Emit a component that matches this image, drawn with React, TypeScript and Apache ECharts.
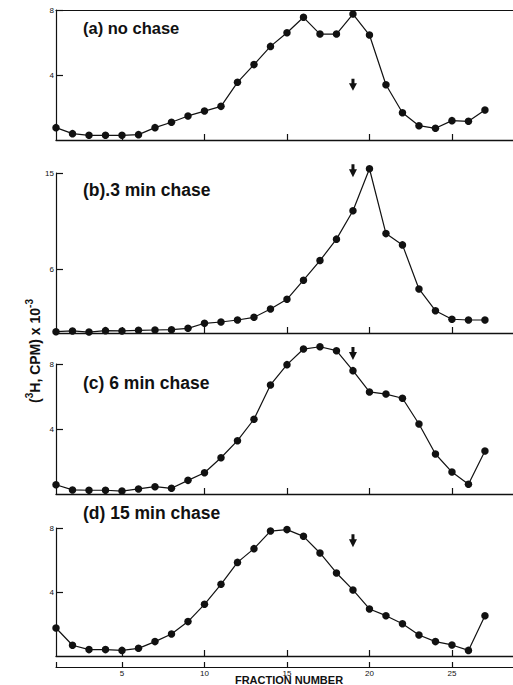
import React, { useEffect, useRef } from "react";
import * as echarts from "echarts";

const fractions = [1, 2, 3, 4, 5, 6, 7, 8, 9, 10, 11, 12, 13, 14, 15, 16, 17, 18, 19, 20, 21, 22, 23, 24, 25, 26, 27];

const noChase = [0.76, 0.39, 0.29, 0.29, 0.29, 0.33, 0.76, 1.09, 1.48, 1.78, 2.07, 3.55, 4.64, 5.76, 6.6, 7.55, 6.52, 6.52, 7.75, 6.46, 3.4, 1.68, 0.88, 0.72, 1.19, 1.15, 1.85];
const chase3 = [0.12, 0.19, 0.09, 0.22, 0.19, 0.25, 0.28, 0.31, 0.44, 0.91, 1.03, 1.22, 1.47, 2.25, 3.16, 4.95, 6.79, 8.8, 11.46, 15.4, 9.32, 8.26, 4.13, 2.09, 1.29, 1.22, 1.22];
const chase6 = [0.57, 0.25, 0.23, 0.23, 0.18, 0.31, 0.45, 0.35, 0.84, 1.31, 2.23, 3.28, 4.6, 6.71, 7.96, 8.92, 9.06, 8.82, 7.59, 6.28, 6.15, 5.89, 4.31, 2.46, 1.35, 0.6, 2.65];
const chase15 = [1.75, 0.67, 0.4, 0.4, 0.35, 0.48, 0.9, 1.38, 2.15, 3.23, 4.48, 5.85, 6.71, 7.81, 7.9, 7.48, 6.44, 5.19, 4.13, 2.94, 2.52, 2.02, 1.31, 0.9, 0.69, 0.35, 2.52];

const panelLabels = ["(a) no chase", "(b).3 min chase", "(c) 6 min chase", "(d) 15 min chase"];
const yMax = [8, 15, 8, 8];
const yTickValues = [[4, 8], [6, 15], [4, 8], [4, 8]];
const xTickValues = [5, 10, 15, 20, 25];
const bottomTickValues = [1, 5, 10, 15, 20, 25];
const arrowFraction = 19.0;
const arrowLevels = [3.4, 15.2, 8.65, 7.2];
const xMin = 1;
const xMax = 28.7;

const INK = "#111";
const FONT = "Liberation Sans, Arial, sans-serif";

export default function App() {
  const ref = useRef<HTMLDivElement>(null);

  useEffect(() => {
    if (!ref.current) return;
    const chart = echarts.init(ref.current, undefined, { renderer: "svg" });

    const gridTops = [10, 173, 364, 528];
    const gridHeights = [130, 160, 130, 128];
    const labelY = [28, 190, 383, 513];
    const labelSize = [16.5, 17.5, 17.5, 17.5];
    const seriesData = [noChase, chase3, chase6, chase15];

    const grids = gridTops.map((t, i) => ({ left: 56, width: 457, top: t, height: gridHeights[i] }));

    const xAxes: any[] = gridTops.map((_, i) => ({
      type: "value",
      gridIndex: i,
      min: xMin,
      max: xMax,
      axisLine: { show: true, lineStyle: { color: INK, width: 1.3 } },
      axisTick: { show: true, inside: true, length: 6, customValues: xTickValues, lineStyle: { color: INK, width: 1.2 } },
      axisLabel: { show: false },
      splitLine: { show: false },
    }));
    // top border of panel (a)
    xAxes.push({
      type: "value",
      gridIndex: 0,
      position: "top",
      min: xMin,
      max: xMax,
      axisLine: { show: true, lineStyle: { color: INK, width: 1.2 } },
      axisTick: { show: false },
      axisLabel: { show: false },
      splitLine: { show: false },
    });
    // lower scale axis below panel (d)
    xAxes.push({
      type: "value",
      gridIndex: 3,
      position: "bottom",
      offset: 11,
      min: xMin,
      max: xMax,
      axisLine: { show: true, lineStyle: { color: INK, width: 1.2 } },
      axisTick: { show: true, inside: true, length: 5, customValues: bottomTickValues, lineStyle: { color: INK, width: 1.2 } },
      axisLabel: { show: true, customValues: xTickValues, fontSize: 8, margin: 2, color: INK, fontFamily: FONT },
      splitLine: { show: false },
    });

    const yAxes = gridTops.map((_, i) => ({
      type: "value",
      gridIndex: i,
      min: 0,
      max: yMax[i],
      axisLine: { show: true, lineStyle: { color: INK, width: 1.2 } },
      axisTick: { show: true, inside: true, length: 7, customValues: yTickValues[i], lineStyle: { color: INK, width: 1.2 } },
      axisLabel: { show: true, customValues: yTickValues[i], fontSize: 8, margin: 2, color: INK, fontFamily: FONT },
      splitLine: { show: false },
    }));

    const series: any[] = [];
    seriesData.forEach((vals, i) => {
      series.push({
        type: "line",
        xAxisIndex: i,
        yAxisIndex: i,
        data: fractions.map((f, k) => [f, vals[k]]),
        symbol: "circle",
        symbolSize: 7.5,
        showSymbol: true,
        clip: false,
        lineStyle: { color: INK, width: 1.2 },
        itemStyle: { color: INK, borderWidth: 0, opacity: 1 },
      });
      series.push({
        type: "scatter",
        xAxisIndex: i,
        yAxisIndex: i,
        data: [[arrowFraction, arrowLevels[i]]],
        symbol: "path://M2.5,0 L5.5,0 L5.5,5 L8,5 L4,13 L0,5 L2.5,5 Z",
        symbolSize: i === 0 ? [8, 12] : [8, 13],
        clip: false,
        itemStyle: { color: INK, opacity: 1 },
      });
    });

    const graphic: any[] = panelLabels.map((txt, i) => ({
      type: "text",
      x: 83,
      y: labelY[i],
      style: {
        text: txt,
        font: `bold ${labelSize[i]}px ${FONT}`,
        fill: INK,
        verticalAlign: "middle",
        align: "left",
      },
    }));
    graphic.push({
      type: "text",
      x: 33,
      y: 351,
      rotation: Math.PI / 2,
      style: {
        text: "{b|(}{s|3}{b|H, CPM) x 10}{s|-3}",
        align: "center",
        verticalAlign: "middle",
        fill: INK,
        rich: {
          b: { fontSize: 14, fontWeight: "bold", fontFamily: FONT, fill: INK, color: INK, lineHeight: 18, verticalAlign: "bottom" },
          s: { fontSize: 10, fontWeight: "bold", fontFamily: FONT, fill: INK, color: INK, lineHeight: 18, verticalAlign: "top" },
        },
      },
    });
    graphic.push({
      type: "text",
      x: 289,
      y: 680,
      style: {
        text: "FRACTION NUMBER",
        font: `bold 11px ${FONT}`,
        fill: INK,
        align: "center",
        verticalAlign: "middle",
      },
    });

    chart.setOption({
      animation: false,
      backgroundColor: "#fff",
      grid: grids,
      xAxis: xAxes,
      yAxis: yAxes,
      series,
      graphic,
    });

    return () => chart.dispose();
  }, []);

  return (
    <div
      ref={ref}
      style={{ position: "absolute", left: 0, top: 0, width: 513, height: 685, background: "#fff" }}
    />
  );
}
